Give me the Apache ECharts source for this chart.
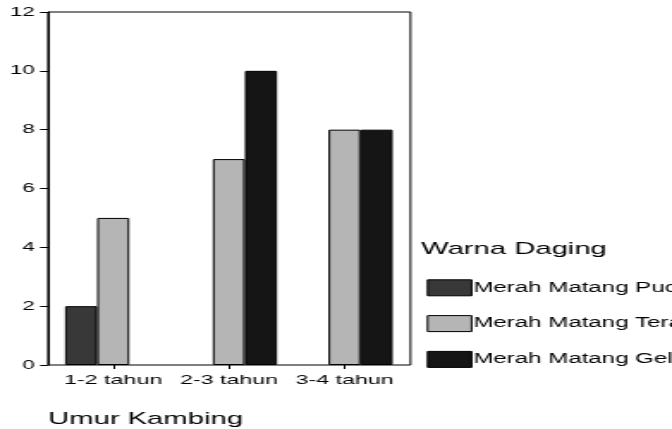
<!DOCTYPE html>
<html>
<head>
<meta charset="utf-8">
<script src="https://cdn.jsdelivr.net/npm/echarts@6/dist/echarts.min.js"></script>
<style>
html,body{margin:0;padding:0;overflow:hidden;background:#fff;width:672px;height:429px;}
#main{width:391px;height:429px;transform:scaleX(1.71867);transform-origin:0 0;}
</style>
</head>
<body>
<div id="main"></div>
<script>
var categories = ['1-2 tahun', '2-3 tahun', '3-4 tahun'];
var seriesNames = ['Merah Matang Pucat', 'Merah Matang Terang', 'Merah Matang Gelap'];
var pucat = [2, 0, 0];
var terang = [5, 7, 8];
var gelap = [0, 10, 8];
var yTicks = [0, 2, 4, 6, 8, 10, 12];
var colors = ['#383838', '#b5b5b5', '#151515'];

var FONT = '"Liberation Sans", Arial, sans-serif';
var chart = echarts.init(document.getElementById('main'), null, {renderer: 'canvas'});
var values = [pucat, terang, gelap];
var series = seriesNames.map(function (n, i) {
  return {
    name: n, type: 'bar', xAxisIndex: 1, yAxisIndex: 1,
    data: values[i].map(function (v) {
      return v === 0 ? {value: v, itemStyle: {borderWidth: 0, opacity: 0}} : v;
    }),
    barGap: '0%', barCategoryGap: '16.7%',
    itemStyle: {color: colors[i], borderColor: '#000', borderWidth: 1},
    emphasis: {disabled: true}, animation: false
  };
});
chart.setOption({
  animation: false,
  title: [
    {text: 'Warna Daging', left: 245, top: 240.5, padding: 0,
     textStyle: {fontFamily: FONT, fontSize: 17, fontWeight: 'normal', color: '#000'}},
    {text: 'Umur Kambing', left: 28, top: 411, padding: 0,
     textStyle: {fontFamily: FONT, fontSize: 17, fontWeight: 'normal', color: '#000'}}
  ],
  legend: {
    orient: 'vertical', left: 248.3, top: 279.3, padding: 0,
    itemWidth: 25.6, itemHeight: 16, itemGap: 18.8,
    icon: 'rect',
    itemStyle: {borderColor: '#000', borderWidth: 1},
    textStyle: {fontFamily: FONT, fontSize: 14, color: '#000', padding: [0, 0, 0, -4]},
    selectedMode: false,
    data: seriesNames
  },
  grid: [
    {left: 27.93, right: 152.15, top: 12, bottom: 64, show: true, borderColor: '#000', borderWidth: 1, backgroundColor: 'transparent'},
    {left: 32.23, right: 156.92, top: 12, bottom: 64}
  ],
  xAxis: [
    {gridIndex: 0, type: 'category', data: categories, show: false},
    {gridIndex: 1, type: 'category', data: categories,
     axisLine: {show: false},
     axisTick: {show: true, alignWithLabel: true, length: 4, lineStyle: {color: '#000', width: 1}},
     axisLabel: {fontFamily: FONT, fontSize: 13.5, color: '#000', margin: 8, interval: 0}}
  ],
  yAxis: [
    {gridIndex: 0, type: 'value', min: yTicks[0], max: yTicks[yTicks.length - 1], interval: yTicks[1] - yTicks[0],
     splitLine: {show: false},
     axisLine: {show: true, lineStyle: {color: '#000', width: 1}},
     axisTick: {show: true, length: 4.65, lineStyle: {color: '#000', width: 1}},
     axisLabel: {fontFamily: FONT, fontSize: 13, color: '#000', margin: 7.6}},
    {gridIndex: 1, type: 'value', min: yTicks[0], max: yTicks[yTicks.length - 1], show: false, splitLine: {show: false}}
  ],
  series: series
});
</script>
</body>
</html>
